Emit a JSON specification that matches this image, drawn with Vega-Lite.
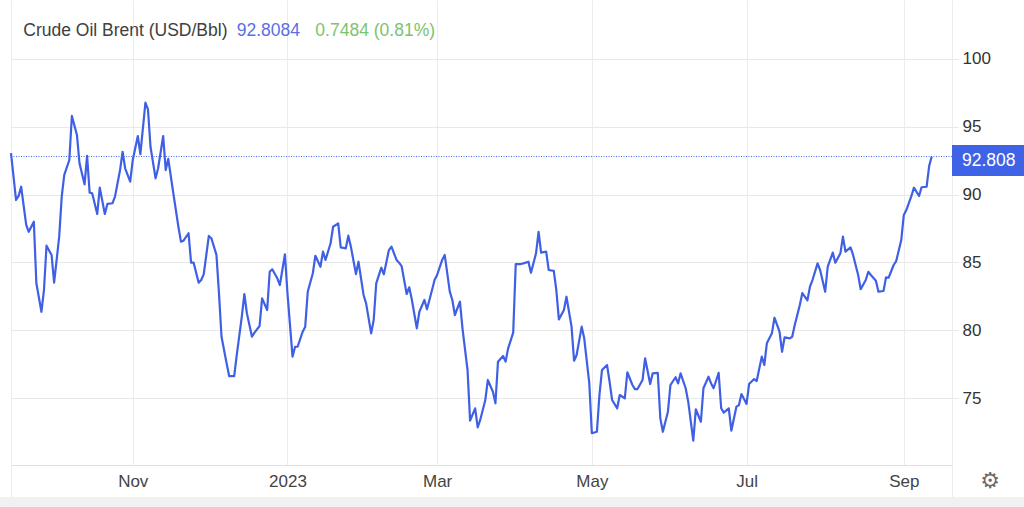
{
  "$schema": "https://vega.github.io/schema/vega-lite/v6.json",
  "width": 941,
  "height": 465,
  "autosize": {"type": "none"},
  "padding": {"left": 11, "top": 0, "right": 72, "bottom": 42},
  "background": "#ffffff",
  "config": {"view": {"stroke": null}, "font": "Liberation Sans"},
  "datasets": {
    "brent": [
      {"date":"2022-09-14","price":93.05},{"date":"2022-09-16","price":89.60},{"date":"2022-09-17","price":89.90},{"date":"2022-09-18","price":90.58},{"date":"2022-09-20","price":87.76},{"date":"2022-09-21","price":87.26},{"date":"2022-09-23","price":88.00},{"date":"2022-09-24","price":83.46},{"date":"2022-09-26","price":81.36},{"date":"2022-09-27","price":82.96},{"date":"2022-09-28","price":86.23},{"date":"2022-09-30","price":85.55},
      {"date":"2022-10-01","price":83.50},{"date":"2022-10-03","price":86.90},{"date":"2022-10-04","price":89.85},{"date":"2022-10-05","price":91.45},{"date":"2022-10-07","price":92.55},{"date":"2022-10-08","price":95.80},{"date":"2022-10-10","price":94.40},{"date":"2022-10-11","price":92.31},{"date":"2022-10-13","price":90.76},{"date":"2022-10-14","price":92.85},{"date":"2022-10-15","price":90.14},{"date":"2022-10-16","price":90.10},{"date":"2022-10-18","price":88.57},{"date":"2022-10-19","price":90.51},{"date":"2022-10-21","price":88.57},{"date":"2022-10-22","price":89.31},{"date":"2022-10-24","price":89.36},{"date":"2022-10-25","price":89.85},{"date":"2022-10-27","price":91.81},{"date":"2022-10-28","price":93.16},{"date":"2022-10-29","price":91.94},{"date":"2022-10-31","price":90.95},
      {"date":"2022-11-01","price":92.55},{"date":"2022-11-03","price":94.32},{"date":"2022-11-04","price":92.99},{"date":"2022-11-06","price":96.78},{"date":"2022-11-07","price":96.29},{"date":"2022-11-08","price":93.53},{"date":"2022-11-10","price":91.20},{"date":"2022-11-11","price":91.94},{"date":"2022-11-13","price":94.32},{"date":"2022-11-14","price":91.81},{"date":"2022-11-15","price":92.63},{"date":"2022-11-17","price":90.10},{"date":"2022-11-19","price":87.63},{"date":"2022-11-20","price":86.53},{"date":"2022-11-21","price":86.60},{"date":"2022-11-23","price":87.15},{"date":"2022-11-24","price":84.98},{"date":"2022-11-25","price":84.98},{"date":"2022-11-27","price":83.50},{"date":"2022-11-28","price":83.70},{"date":"2022-11-29","price":84.14},
      {"date":"2022-12-01","price":86.95},{"date":"2022-12-02","price":86.78},{"date":"2022-12-04","price":85.55},{"date":"2022-12-05","price":82.72},{"date":"2022-12-06","price":79.52},{"date":"2022-12-08","price":77.56},{"date":"2022-12-09","price":76.62},{"date":"2022-12-11","price":76.62},{"date":"2022-12-12","price":78.17},{"date":"2022-12-14","price":81.00},{"date":"2022-12-15","price":82.67},{"date":"2022-12-16","price":81.25},{"date":"2022-12-18","price":79.52},{"date":"2022-12-19","price":79.82},{"date":"2022-12-21","price":80.31},{"date":"2022-12-22","price":82.35},{"date":"2022-12-24","price":81.49},{"date":"2022-12-25","price":84.31},{"date":"2022-12-26","price":84.49},{"date":"2022-12-28","price":83.83},{"date":"2022-12-29","price":83.33},{"date":"2022-12-31","price":85.60},
      {"date":"2023-01-01","price":82.72},{"date":"2023-01-03","price":78.05},{"date":"2023-01-04","price":78.78},{"date":"2023-01-05","price":78.78},{"date":"2023-01-07","price":79.89},{"date":"2023-01-08","price":80.26},{"date":"2023-01-09","price":82.84},{"date":"2023-01-11","price":84.20},{"date":"2023-01-12","price":85.49},{"date":"2023-01-14","price":84.68},{"date":"2023-01-15","price":85.79},{"date":"2023-01-16","price":85.18},{"date":"2023-01-18","price":86.41},{"date":"2023-01-19","price":87.63},{"date":"2023-01-21","price":87.88},{"date":"2023-01-22","price":86.11},{"date":"2023-01-24","price":86.04},{"date":"2023-01-25","price":86.97},{"date":"2023-01-26","price":86.16},{"date":"2023-01-28","price":84.14},{"date":"2023-01-29","price":85.05},{"date":"2023-01-31","price":82.60},
      {"date":"2023-02-01","price":81.98},{"date":"2023-02-03","price":79.77},{"date":"2023-02-04","price":80.75},{"date":"2023-02-05","price":83.46},{"date":"2023-02-07","price":84.61},{"date":"2023-02-08","price":84.12},{"date":"2023-02-10","price":85.91},{"date":"2023-02-11","price":86.16},{"date":"2023-02-13","price":85.18},{"date":"2023-02-14","price":84.98},{"date":"2023-02-15","price":84.73},{"date":"2023-02-17","price":82.67},{"date":"2023-02-18","price":83.16},{"date":"2023-02-19","price":82.28},{"date":"2023-02-21","price":80.14},{"date":"2023-02-22","price":81.36},{"date":"2023-02-24","price":82.23},{"date":"2023-02-25","price":81.54},{"date":"2023-02-27","price":82.96},{"date":"2023-02-28","price":83.70},
      {"date":"2023-03-01","price":84.07},{"date":"2023-03-03","price":85.18},{"date":"2023-03-04","price":85.55},{"date":"2023-03-06","price":82.84},{"date":"2023-03-07","price":82.23},{"date":"2023-03-08","price":81.12},{"date":"2023-03-10","price":82.10},{"date":"2023-03-11","price":80.14},{"date":"2023-03-13","price":77.06},{"date":"2023-03-14","price":73.33},{"date":"2023-03-16","price":74.24},{"date":"2023-03-17","price":72.84},{"date":"2023-03-18","price":73.38},{"date":"2023-03-20","price":74.85},{"date":"2023-03-21","price":76.33},{"date":"2023-03-23","price":75.46},{"date":"2023-03-24","price":74.61},{"date":"2023-03-25","price":77.68},{"date":"2023-03-27","price":78.10},{"date":"2023-03-28","price":77.68},{"date":"2023-03-29","price":78.66},{"date":"2023-03-31","price":79.82},
      {"date":"2023-04-01","price":84.88},{"date":"2023-04-03","price":84.88},{"date":"2023-04-04","price":84.93},{"date":"2023-04-06","price":85.05},{"date":"2023-04-07","price":84.24},{"date":"2023-04-09","price":85.67},{"date":"2023-04-10","price":87.26},{"date":"2023-04-11","price":85.72},{"date":"2023-04-13","price":85.79},{"date":"2023-04-14","price":84.44},{"date":"2023-04-16","price":84.37},{"date":"2023-04-17","price":82.96},{"date":"2023-04-18","price":80.80},{"date":"2023-04-20","price":81.49},{"date":"2023-04-21","price":82.47},{"date":"2023-04-23","price":80.26},{"date":"2023-04-24","price":77.75},{"date":"2023-04-25","price":78.17},{"date":"2023-04-27","price":80.26},{"date":"2023-04-28","price":79.40},{"date":"2023-04-30","price":76.08},
      {"date":"2023-05-01","price":72.40},{"date":"2023-05-03","price":72.51},{"date":"2023-05-04","price":75.22},{"date":"2023-05-05","price":77.06},{"date":"2023-05-07","price":77.43},{"date":"2023-05-08","price":76.20},{"date":"2023-05-09","price":74.85},{"date":"2023-05-11","price":74.24},{"date":"2023-05-12","price":75.22},{"date":"2023-05-14","price":74.98},{"date":"2023-05-15","price":76.90},{"date":"2023-05-17","price":75.96},{"date":"2023-05-18","price":75.66},{"date":"2023-05-19","price":75.66},{"date":"2023-05-21","price":76.33},{"date":"2023-05-22","price":77.93},{"date":"2023-05-24","price":76.03},{"date":"2023-05-25","price":76.82},{"date":"2023-05-27","price":76.86},{"date":"2023-05-28","price":73.50},{"date":"2023-05-29","price":72.51},{"date":"2023-05-31","price":73.99},
      {"date":"2023-06-01","price":75.96},{"date":"2023-06-03","price":76.53},{"date":"2023-06-04","price":76.08},{"date":"2023-06-05","price":76.82},{"date":"2023-06-07","price":75.72},{"date":"2023-06-08","price":74.73},{"date":"2023-06-10","price":71.85},{"date":"2023-06-11","price":74.17},{"date":"2023-06-13","price":73.25},{"date":"2023-06-14","price":75.72},{"date":"2023-06-16","price":76.57},{"date":"2023-06-17","price":76.08},{"date":"2023-06-18","price":75.72},{"date":"2023-06-20","price":76.86},{"date":"2023-06-21","price":74.24},{"date":"2023-06-22","price":73.92},{"date":"2023-06-24","price":74.24},{"date":"2023-06-25","price":72.59},{"date":"2023-06-27","price":74.36},{"date":"2023-06-28","price":74.48},{"date":"2023-06-29","price":75.29},
      {"date":"2023-07-01","price":74.56},{"date":"2023-07-02","price":76.03},{"date":"2023-07-04","price":76.40},{"date":"2023-07-05","price":76.25},{"date":"2023-07-07","price":78.05},{"date":"2023-07-08","price":77.43},{"date":"2023-07-09","price":79.03},{"date":"2023-07-11","price":79.77},{"date":"2023-07-12","price":80.92},{"date":"2023-07-14","price":79.89},{"date":"2023-07-15","price":78.41},{"date":"2023-07-16","price":79.48},{"date":"2023-07-18","price":79.40},{"date":"2023-07-19","price":79.52},{"date":"2023-07-20","price":80.38},{"date":"2023-07-22","price":81.86},{"date":"2023-07-23","price":82.74},{"date":"2023-07-25","price":82.20},{"date":"2023-07-26","price":83.21},{"date":"2023-07-27","price":83.70},{"date":"2023-07-29","price":84.93},{"date":"2023-07-30","price":84.44},
      {"date":"2023-08-01","price":82.84},{"date":"2023-08-02","price":84.68},{"date":"2023-08-04","price":85.72},{"date":"2023-08-05","price":84.98},{"date":"2023-08-07","price":85.67},{"date":"2023-08-08","price":86.90},{"date":"2023-08-09","price":85.79},{"date":"2023-08-11","price":86.11},{"date":"2023-08-12","price":85.55},{"date":"2023-08-14","price":84.07},{"date":"2023-08-15","price":83.02},{"date":"2023-08-17","price":83.70},{"date":"2023-08-18","price":84.31},{"date":"2023-08-19","price":84.07},{"date":"2023-08-21","price":83.65},{"date":"2023-08-22","price":82.84},{"date":"2023-08-24","price":82.89},{"date":"2023-08-25","price":83.90},{"date":"2023-08-26","price":83.87},{"date":"2023-08-28","price":84.81},{"date":"2023-08-29","price":85.10},{"date":"2023-08-31","price":86.65},
      {"date":"2023-09-01","price":88.50},{"date":"2023-09-02","price":88.86},{"date":"2023-09-04","price":89.90},{"date":"2023-09-05","price":90.51},{"date":"2023-09-07","price":89.90},{"date":"2023-09-08","price":90.54},{"date":"2023-09-10","price":90.58},{"date":"2023-09-11","price":92.11},{"date":"2023-09-12","price":92.81}
    ]
  },
  "layer": [
    {
      "data": {"values": [{}]},
      "mark": {"type": "rect", "color": "#f1f1f1"},
      "encoding": {
        "x": {"datum": {"year": 2022, "month": 9, "date": 8}, "type": "temporal"},
        "x2": {"datum": {"year": 2023, "month": 10, "date": 25}},
        "y": {"datum": 67.7, "type": "quantitative"},
        "y2": {"datum": 55}
      }
    },
    {
      "data": {"values": [{}]},
      "mark": {"type": "rule", "color": "#4a6cf0", "strokeWidth": 1, "strokeDash": [1, 1.5]},
      "encoding": {"y": {"datum": 92.808, "type": "quantitative"}}
    },
    {
      "data": {"name": "brent", "format": {"parse": {"date": "date:'%Y-%m-%d'"}}},
      "mark": {"type": "line", "color": "#3f60e4", "strokeWidth": 2.2, "strokeJoin": "round"},
      "encoding": {
        "x": {
          "field": "date",
          "type": "temporal",
          "scale": {"domain": [{"year": 2022, "month": 9, "date": 14}, {"year": 2023, "month": 9, "date": 20}]},
          "axis": {
            "title": null,
            "values": [
              {"year": 2022, "month": 9, "date": 14},
              {"year": 2022, "month": 11, "date": 1},
              {"year": 2023, "month": 1, "date": 1},
              {"year": 2023, "month": 3, "date": 1},
              {"year": 2023, "month": 5, "date": 1},
              {"year": 2023, "month": 7, "date": 1},
              {"year": 2023, "month": 9, "date": 1},
              {"year": 2023, "month": 9, "date": 20}
            ],
            "grid": true,
            "gridColor": "#ececec",
            "domainColor": "#e0e0e0",
            "tickSize": 32,
            "tickColor": "#ececec",
            "tickOpacity": {"condition": {"test": "datum.value < time(datetime(2022, 9, 1)) || datum.value > time(datetime(2023, 8, 10))", "value": 1}, "value": 0},
            "labelPadding": -24,
            "labelExpr": "(datum.value < time(datetime(2022, 9, 1)) || datum.value > time(datetime(2023, 8, 10))) ? '' : (month(datum.value) == 0 ? timeFormat(datum.value, '%Y') : timeFormat(datum.value, '%b'))",
            "labelFontSize": 17,
            "labelColor": "#444444",
            "labelOverlap": false,
            "labelFlush": false
          }
        },
        "y": {
          "field": "price",
          "type": "quantitative",
          "scale": {"domain": [70.06, 104.35], "nice": false, "zero": false},
          "axis": {
            "title": null,
            "orient": "right",
            "values": [75, 80, 85, 90, 95, 100],
            "domain": false,
            "grid": true,
            "gridColor": "#e8e8e8",
            "tickSize": 6,
            "tickColor": "#e8e8e8",
            "labelPadding": 4,
            "labelFontSize": 17,
            "labelColor": "#333333"
          }
        }
      }
    },
    {
      "data": {"values": [{}]},
      "mark": {"type": "rect", "color": "#3f63e6"},
      "encoding": {
        "x": {"datum": {"year": 2023, "month": 9, "date": 20}, "type": "temporal"},
        "x2": {"datum": {"year": 2023, "month": 10, "date": 25}},
        "y": {"datum": 93.66, "type": "quantitative"},
        "y2": {"datum": 91.37}
      }
    },
    {
      "data": {"values": [{}]},
      "mark": {"type": "text", "text": "92.808", "color": "#ffffff", "fontSize": 17.5, "align": "left", "baseline": "alphabetic", "dx": 10},
      "encoding": {
        "x": {"datum": {"year": 2023, "month": 9, "date": 20}, "type": "temporal"},
        "y": {"datum": 92.11, "type": "quantitative"}
      }
    },
    {
      "data": {"values": [{}]},
      "mark": {"type": "text", "text": "Crude Oil Brent (USD/Bbl)", "color": "#404040", "fontSize": 17.5, "align": "left", "baseline": "alphabetic"},
      "encoding": {
        "x": {"datum": {"year": 2022, "month": 9, "date": 18, "hours": 20}, "type": "temporal"},
        "y": {"datum": 101.7, "type": "quantitative"}
      }
    },
    {
      "data": {"values": [{}]},
      "mark": {"type": "text", "text": "92.8084", "color": "#5a6fe2", "fontSize": 17.5, "align": "left", "baseline": "alphabetic"},
      "encoding": {
        "x": {"datum": {"year": 2022, "month": 12, "date": 12}, "type": "temporal"},
        "y": {"datum": 101.7, "type": "quantitative"}
      }
    },
    {
      "data": {"values": [{}]},
      "mark": {"type": "text", "text": "0.7484 (0.81%)", "color": "#7cc36e", "fontSize": 17.5, "align": "left", "baseline": "alphabetic"},
      "encoding": {
        "x": {"datum": {"year": 2023, "month": 1, "date": 12}, "type": "temporal"},
        "y": {"datum": 101.7, "type": "quantitative"}
      }
    },
    {
      "data": {"values": [{}]},
      "mark": {"type": "text", "text": "⚙", "font": "DejaVu Sans", "color": "#6b6b6b", "fontSize": 22, "align": "center", "baseline": "middle"},
      "encoding": {
        "x": {"datum": {"year": 2023, "month": 10, "date": 5}, "type": "temporal"},
        "y": {"datum": 68.88, "type": "quantitative"}
      }
    }
  ]
}
